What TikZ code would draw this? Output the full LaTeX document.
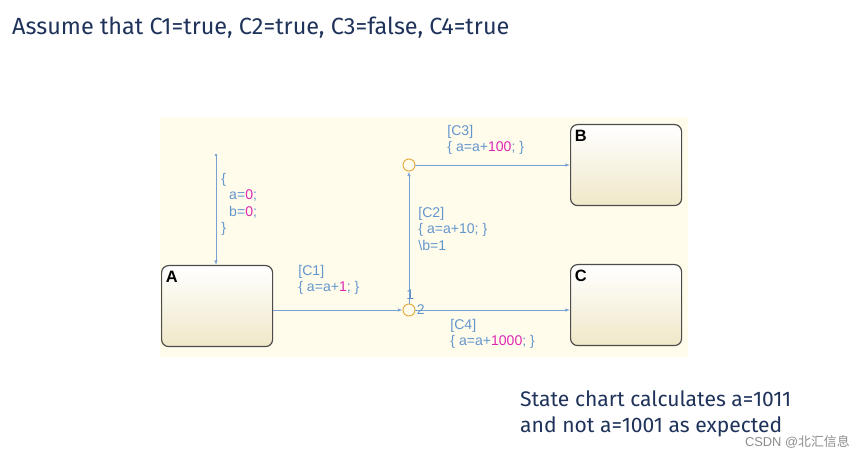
\documentclass[tikz,border=0pt]{standalone}
\usepackage{fontspec}
\setmainfont{Liberation Sans}
\newfontfamily\headfont{Fira Sans}
\newfontfamily\cjk{Noto Sans CJK SC}
\usetikzlibrary{positioning,arrows.meta}
\definecolor{lineblue}{RGB}{120,160,210}
\definecolor{labelblue}{RGB}{100,150,205}
\definecolor{numpink}{RGB}{220,40,180}
\definecolor{chartbg}{RGB}{255,252,235}
\definecolor{statebot}{RGB}{240,232,200}
\definecolor{junc}{RGB}{225,170,60}
\definecolor{headtext}{RGB}{30,50,90}
\newcommand{\nm}[1]{\textcolor{numpink}{#1}}
\tikzset{
  state/.style={draw=black!70,line width=1pt,rounded corners=6pt,
    top color=white,bottom color=statebot,
    minimum width=111*0.03cm,minimum height=81*0.03cm,inner sep=0pt},
  statename/.style={anchor=north west,inner sep=0pt,font=\fontsize{14}{16}\selectfont\bfseries},
  junction/.style={circle,draw=junc,line width=0.8pt,fill=chartbg,
    minimum size=12*0.03cm,inner sep=0pt},
  trans/.style={draw=lineblue,line width=0.7pt,-{Latex[open,length=4pt,width=3pt]}},
  lbl/.style={text=labelblue,font=\fontsize{12}{14}\selectfont,align=left,inner sep=1pt},
  headline/.style={text=headtext,font=\headfont\fontsize{20}{25}\selectfont,align=left,inner sep=0pt}
}
\begin{document}
\begin{tikzpicture}[x=0.03cm,y=-0.03cm]
\useasboundingbox (0,0) rectangle (865,460);
\fill[chartbg] (160,117) rectangle (688,357);
\node[headline,anchor=west] (title) at (12,28) {Assume that C1=true, C2=true, C3=false, C4=true};
% states
\node[state,anchor=north west] (A) at (161,265) {};
\node[statename] at ([shift={(4pt,-5pt)}]A.north west) {A};
\node[state,anchor=north west] (B) at (570,124) {};
\node[statename] at ([shift={(4pt,-5pt)}]B.north west) {B};
\node[state,anchor=north west] (C) at (570,264) {};
\node[statename] at ([shift={(4pt,-5pt)}]C.north west) {C};
% junctions
\node[junction] (j1) at (409,165) {};
\node[junction] (j2) at (409,310) {};
\coordinate (start) at (216,155);
\fill[lineblue] (start) circle (1.2pt);
% transitions
\draw[trans] (start) -- (start |- A.north);
\draw[trans] (A.east |- j2) -- (j2);
\draw[trans] (j2) -- (j1);
\draw[trans] (j1) -- (j1 -| B.west);
\draw[trans] (j2) -- (j2 -| C.west);
% labels
\node[lbl,anchor=north west] (init) at (220,172) {\{\\\ \ a=\nm{0};\\\ \ b=\nm{0};\\\}};
\node[lbl,anchor=north west] (c1) at (297,264) {[C1]\\\{ a=a+\nm{1}; \}};
\node[lbl,anchor=north west] (c2) at (417,206) {[C2]\\\{ a=a+10; \}\\\textbackslash b=1};
\node[lbl,anchor=north west] (c3) at (446,124) {[C3]\\\{ a=a+\nm{100}; \}};
\node[lbl,anchor=north west] (c4) at (449,318) {[C4]\\\{ a=a+\nm{1000}; \}};
\node[lbl,anchor=south] (n1) at ([xshift=1pt,yshift=2pt]j2.north) {1};
\node[lbl,anchor=west] (n2) at (j2.east) {2};
% note
\node[headline,anchor=north west,font=\headfont\fontsize{18}{23}\selectfont] (note) at (520,390) {State chart calculates a=1011\\and not a=1001 as expected};
\node[anchor=east,text=black!45,font=\fontsize{11}{13}\selectfont,inner sep=0pt] (wm) at (850,442) {CSDN @{\cjk 北汇信息}};
\end{tikzpicture}
\end{document}
